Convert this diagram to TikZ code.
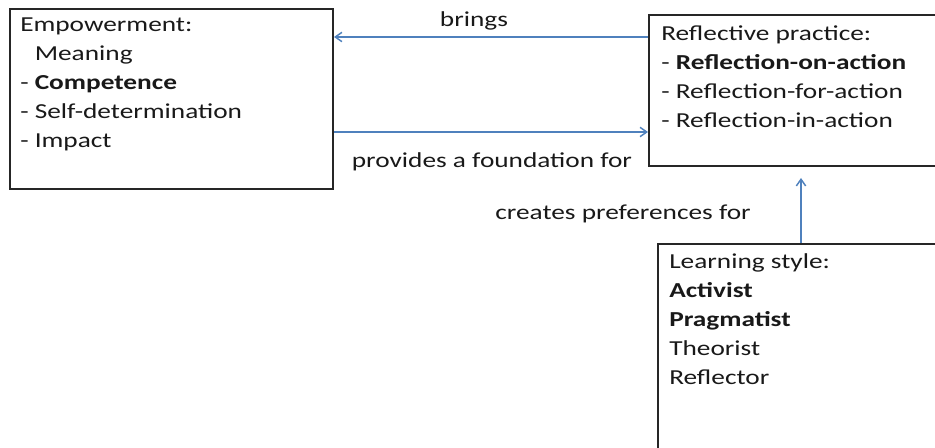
\documentclass[tikz,border=0pt]{standalone}
\usepackage{fontspec}
\setmainfont{Carlito}[FakeStretch=1.28]
\usetikzlibrary{positioning,calc,fit,arrows.meta}

\definecolor{linkblue}{RGB}{79,129,189}

\tikzset{
  box/.style={draw=black!85, line width=1.5pt, inner sep=0pt},
  boxtext/.style={anchor=base west, inner sep=0pt, align=left, text=black!90,
    font=\fontsize{16pt}{21.75pt}\selectfont},
  lbl/.style={anchor=base, inner sep=0pt, text=black!90,
    font=\fontsize{16pt}{21.75pt}\selectfont},
  flow/.style={draw=linkblue, line width=1.1pt, -{Straight Barb[length=5pt,width=7pt]}}
}

\begin{document}
\begin{tikzpicture}[x=0.75pt,y=-0.75pt]
\useasboundingbox (0,0) rectangle (935,448);
\clip (0,0) rectangle (935,448);

% boxes
\node[box, fit={(10,9) (333,189)}] (emp) {};
\node[box, fit={(649,15) (980,166)}] (refl) {};
\node[box, fit={(658,244) (980,480)}] (learn) {};

% box contents (base = last line)
\node[boxtext] (emptext) at (20,148) {Empowerment:\\
  \phantom{- }Meaning\\
  - \textbf{Competence}\\
  - Self-determination\\
  - Impact};
\node[boxtext] (refltext) at (661,128) {Reflective practice:\\
  - \textbf{Reflection-on-action}\\
  - Reflection-for-action\\
  - Reflection-in-action};
\node[boxtext] (learntext) at (669,385) {Learning style:\\
  \textbf{Activist}\\
  \textbf{Pragmatist}\\
  Theorist\\
  Reflector};

% connectors
\coordinate (bringsy) at (0,37);
\coordinate (providesy) at (0,132);
\coordinate (reflbelow) at (801,178);
\draw[flow] (refl.west |- bringsy) -- (emp.east |- bringsy);
\draw[flow] (emp.east |- providesy) -- (refl.west |- providesy);
\draw[flow] (reflbelow |- learn.north) -- (reflbelow);

% labels
\node[lbl] (brings) at (474,27) {brings};
\node[lbl] (provides) at (492,168) {provides a foundation for};
\node[lbl] (creates) at (623,220) {creates preferences for};
\end{tikzpicture}
\end{document}
